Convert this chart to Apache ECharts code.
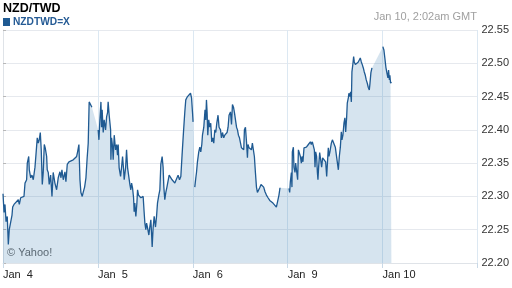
<!DOCTYPE html>
<html>
<head>
<meta charset="utf-8">
<script src="https://cdn.jsdelivr.net/npm/echarts@6/dist/echarts.min.js"></script>
<style>html,body{margin:0;padding:0;background:#fff;}#c{width:512px;height:288px;}</style>
</head>
<body>
<div id="c"></div>
<script>
// x = trading days since Jan 4 00:00 (Jan 4, 5, 6, 9, 10); null marks a gap in the line
var dayLabels = ['Jan  4', 'Jan  5', 'Jan  6', 'Jan  9', 'Jan 10'];
var yTicks = [22.20, 22.25, 22.30, 22.35, 22.40, 22.45, 22.50, 22.55];
var times = [
0,0.011,0.021,0.032,0.045,0.056,0.066,0.084,0.095,0.102,0.116,0.137,0.161,0.172,0.186,0.207,0.221,0.232,0.249,0.256,
0.271,0.277,0.292,0.305,0.319,0.337,0.347,0.361,0.372,0.382,0.393,0.403,0.414,0.424,0.435,0.445,0.460,0.466,0.477,0.487,
0.502,0.516,0.529,0.547,0.565,0.582,0.600,0.611,0.621,0.635,0.653,0.663,0.677,0.695,0.713,0.740,0.758,0.776,0.786,0.800,
0.811,0.821,0.835,0.845,0.860,0.874,0.887,0.898,0.908,0.923,0.937,null,
1.003,1.011,1.021,1.032,1.039,1.045,1.056,1.066,1.081,1.092,1.102,1.108,1.119,1.134,1.137,1.144,1.155,1.161,1.172,1.186,
1.197,1.207,1.214,1.224,1.239,1.249,1.260,1.271,1.277,1.292,1.302,1.313,1.326,1.337,1.347,1.355,1.365,1.376,1.382,1.389,
1.400,1.411,1.418,1.428,1.439,1.453,1.466,1.477,1.487,1.495,1.505,1.513,1.523,1.537,1.547,1.558,1.565,1.572,1.582,1.593,
1.607,1.618,1.628,1.642,1.653,1.663,1.677,1.687,1.695,1.705,1.716,1.726,1.740,1.751,1.768,1.782,1.797,1.811,1.828,1.845,
1.860,1.874,1.887,1.902,1.916,1.926,1.944,1.961,1.976,1.987,1.997,2.003,null,
2.021,2.032,2.039,2.049,2.063,2.074,2.084,2.095,2.102,2.116,2.123,2.129,2.137,2.144,2.151,2.158,2.168,2.179,2.189,2.200,
2.211,2.221,2.232,2.242,2.253,2.266,2.277,2.292,2.302,2.313,2.326,2.337,2.347,2.361,2.372,2.382,2.397,2.408,2.418,2.429,
2.439,2.450,2.461,2.471,2.481,2.492,2.503,2.513,2.523,2.537,2.544,2.555,2.566,2.576,2.582,2.593,2.607,2.618,2.628,2.639,
2.649,2.660,2.671,2.681,2.692,2.705,2.719,2.734,2.747,2.761,2.776,2.793,2.811,2.828,2.845,2.863,2.881,2.898,2.908,2.919,null,
3.014,3.021,3.028,3.039,3.045,3.049,3.060,3.066,3.077,3.084,3.095,3.105,3.113,3.123,3.134,3.144,3.151,3.161,3.172,3.182,
3.197,3.207,3.218,3.228,3.239,3.249,3.260,3.271,3.281,3.288,3.295,3.305,3.313,3.319,3.326,3.337,3.347,3.358,3.368,3.379,
3.389,3.400,3.411,3.418,3.428,3.435,3.445,3.460,3.471,3.481,3.492,3.502,3.513,3.523,3.534,3.544,3.555,3.565,3.572,3.582,
3.593,3.603,3.611,3.621,3.628,3.639,3.645,3.656,3.663,3.671,3.677,3.688,3.695,3.702,3.713,3.723,3.734,3.744,3.755,3.765,
3.776,3.786,3.797,3.807,3.818,3.828,3.839,3.849,3.860,3.866,3.877,3.888,null,
4.003,4.014,4.024,4.035,4.045,4.056,4.063,4.072,4.077,4.084,4.093
];
var rates = [
22.304,22.276,22.288,22.262,22.270,22.228,22.250,22.250,22.272,22.284,22.288,22.290,22.295,22.288,22.298,22.295,22.300,22.320,22.325,22.350,
22.360,22.340,22.328,22.332,22.325,22.344,22.362,22.388,22.380,22.385,22.396,22.370,22.318,22.336,22.378,22.373,22.360,22.340,22.336,22.318,
22.332,22.300,22.336,22.320,22.310,22.328,22.337,22.328,22.340,22.325,22.337,22.322,22.348,22.352,22.355,22.355,22.358,22.360,22.367,22.378,
22.325,22.306,22.300,22.306,22.314,22.328,22.358,22.380,22.442,22.440,22.434,null,
22.400,22.385,22.415,22.442,22.404,22.430,22.396,22.415,22.400,22.420,22.426,22.442,22.422,22.400,22.355,22.388,22.374,22.355,22.392,22.370,
22.378,22.362,22.378,22.343,22.330,22.343,22.360,22.340,22.325,22.343,22.370,22.343,22.343,22.318,22.310,22.320,22.313,22.298,22.277,22.290,
22.270,22.290,22.310,22.302,22.300,22.298,22.295,22.300,22.277,22.260,22.250,22.260,22.253,22.242,22.254,22.265,22.246,22.224,22.253,22.270,
22.254,22.270,22.290,22.302,22.310,22.348,22.360,22.344,22.314,22.295,22.306,22.313,22.310,22.332,22.330,22.325,22.322,22.320,22.318,22.332,
22.325,22.330,22.362,22.397,22.427,22.445,22.450,22.452,22.455,22.448,22.426,22.412,null,
22.314,22.328,22.336,22.352,22.367,22.374,22.367,22.378,22.392,22.404,22.418,22.430,22.415,22.445,22.426,22.392,22.415,22.404,22.410,22.382,
22.388,22.380,22.400,22.396,22.410,22.422,22.404,22.400,22.388,22.396,22.388,22.392,22.390,22.396,22.404,22.422,22.427,22.408,22.438,22.434,
22.426,22.427,22.404,22.400,22.392,22.388,22.380,22.373,22.370,22.370,22.400,22.404,22.382,22.358,22.378,22.373,22.374,22.370,22.380,22.382,
22.360,22.336,22.314,22.306,22.307,22.313,22.318,22.320,22.314,22.307,22.302,22.298,22.294,22.292,22.290,22.288,22.284,22.283,22.302,22.313,null,
22.312,22.306,22.322,22.336,22.314,22.367,22.374,22.344,22.336,22.350,22.348,22.325,22.370,22.373,22.360,22.350,22.360,22.352,22.373,22.370,
22.374,22.373,22.378,22.380,22.382,22.378,22.382,22.380,22.370,22.344,22.367,22.360,22.336,22.325,22.344,22.366,22.367,22.344,22.358,22.360,
22.358,22.352,22.330,22.348,22.373,22.360,22.367,22.380,22.385,22.388,22.382,22.374,22.362,22.360,22.340,22.360,22.374,22.397,22.385,22.392,
22.410,22.418,22.397,22.418,22.440,22.448,22.455,22.450,22.457,22.442,22.487,22.500,22.510,22.502,22.498,22.500,22.498,22.502,22.505,22.508,
22.502,22.498,22.493,22.487,22.482,22.475,22.470,22.464,22.460,22.468,22.486,22.493,null,
22.525,22.520,22.508,22.494,22.486,22.478,22.490,22.475,22.482,22.470,22.472
];

var areaData = [], lineData = [];
for (var i = 0; i < rates.length; i++) {
  if (rates[i] === null) { lineData.push([times[i - 1], '-']); }
  else { areaData.push([times[i], rates[i]]); lineData.push([times[i], rates[i]]); }
}

var chart = echarts.init(document.getElementById('c'), null, {renderer: 'canvas'});
chart.setOption({
  animation: false,
  backgroundColor: '#ffffff',
  title: [
    {text: 'NZD/TWD', left: 3, top: 2, padding: 0, textStyle: {fontFamily: 'Liberation Sans', fontSize: 12.5, fontWeight: 'bold', color: '#000'}},
    {text: 'Jan 10, 2:02am GMT', right: 35, top: 11, padding: 0, textStyle: {fontFamily: 'Liberation Sans', fontSize: 11, fontWeight: 'normal', color: '#a0a0a0'}}
  ],
  legend: {
    left: 3, top: 17, padding: 0, itemWidth: 7, itemHeight: 8, itemGap: 4, icon: 'rect',
    data: [{name: 'NZDTWD=X', itemStyle: {color: '#1f5a92'}}],
    textStyle: {fontFamily: 'Liberation Sans', fontSize: 10.2, fontWeight: 'bold', color: '#245a94', padding: [0, 0, 0, -2]}
  },
  graphic: [{type: 'text', left: 7, top: 247, style: {text: '\u00a9 Yahoo!', font: '11px "Liberation Sans"', fill: '#6a6a6a'}}],
  grid: {left: 3, right: 34, top: 30, bottom: 25},
  xAxis: {
    type: 'value', min: 0, max: 5, interval: 1,
    axisLine: {show: true, lineStyle: {color: '#dfe3e8'}},
    axisTick: {show: true, length: 5, lineStyle: {color: '#c9d9e7'}},
    axisLabel: {
      show: true, align: 'left', margin: 6, color: '#222', fontFamily: 'Liberation Sans', fontSize: 11,
      formatter: function (v) { return dayLabels[Math.round(v)] || ''; }
    },
    splitLine: {show: true, lineStyle: {color: '#dce8f2', width: 1}}
  },
  yAxis: {
    type: 'value', position: 'right', min: 22.2, max: 22.55, interval: 0.05,
    axisLine: {show: true, lineStyle: {color: '#dfe3e8'}},
    axisTick: {show: true, length: 3, lineStyle: {color: '#b8b8b8'}},
    axisLabel: {
      margin: 4, color: '#333', fontFamily: 'Liberation Sans', fontSize: 11,
      formatter: function (v) { var t = yTicks.filter(function (k) { return Math.abs(k - v) < 1e-6; }); return t.length ? t[0].toFixed(2) : ''; }
    },
    splitLine: {show: true, lineStyle: {color: '#e6e9ee', width: 1}}
  },
  series: [
    {
      name: 'area', type: 'line', data: areaData, showSymbol: false, symbol: 'none',
      lineStyle: {width: 0, opacity: 0}, connectNulls: true,
      areaStyle: {color: 'rgb(30,105,165)', opacity: 0.18, origin: 'start'}, z: 1, silent: true
    },
    {
      name: 'NZDTWD=X', type: 'line', data: lineData, showSymbol: false, symbol: 'none',
      lineStyle: {width: 1.3, color: '#1f5a92'}, itemStyle: {color: '#1f5a92'}, z: 2, connectNulls: false
    }
  ]
});
</script>
</body>
</html>
